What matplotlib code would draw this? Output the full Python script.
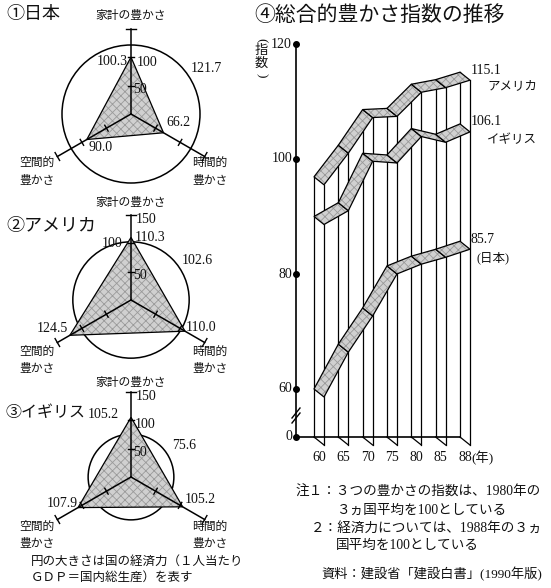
import numpy as np
import matplotlib.pyplot as plt
from matplotlib.patches import Polygon, Circle

plt.rcParams['font.family'] = ['Liberation Serif', 'Noto Sans CJK JP']
plt.rcParams['hatch.linewidth'] = 0.6

W, H, DPI = 551, 588, 100

# 豊かさ指数（家計・時間的・空間的）と経済力
japan_vals = [100.3, 66.2, 90.0]
usa_vals = [110.3, 110.0, 124.5]
uk_vals = [105.2, 105.2, 107.9]
japan_gdp = 121.7
usa_gdp = 102.6
uk_gdp = 75.6

# 総合的豊かさ指数の推移
years = ['60', '65', '70', '75', '80', '85', '88']
usa_trend = [96.9, 102.4, 108.6, 108.8, 113.0, 113.8, 115.1]
uk_trend = [90.0, 92.4, 101.0, 100.7, 105.3, 104.3, 106.1]
japan_trend = [60.0, 67.8, 74.1, 81.4, 83.1, 84.3, 85.7]
trend_names = ['アメリカ', 'イギリス', '(日本)']
yticks = [0, 60, 80, 100, 120]

FILL = '#d0d0d0'
HATCH = '#9a9a9a'
INK = '#111111'

fig = plt.figure(figsize=(W / DPI, H / DPI), dpi=DPI)


def px_axes(x0, y0, w, h):
    return fig.add_axes([x0 / W, 1 - (y0 + h) / H, w / W, h / H])


def ftext(x, y, s, **kw):
    kw.setdefault('va', 'center')
    kw.setdefault('color', INK)
    fig.text(x / W, 1 - y / H, s, **kw)


def shade(ax, pts, zorder=3):
    ax.add_patch(Polygon(pts, closed=True, fc=FILL, ec=HATCH, hatch='xxxx',
                         lw=0, zorder=zorder))
    ax.add_patch(Polygon(pts, closed=True, fill=False, ec='black', lw=0.9,
                         zorder=zorder))


# ---- radar charts ----
R = 0.567  # pixels per index point
ANG = np.radians([90, -30, 210])


def radar(cx, cy, vals, gdp, val_offs, off100, cap150, top_gap, low_dy):
    half = 125
    ax = px_axes(cx - half, cy - half, 2 * half, 2 * half)
    lim = half / R
    ax.set_xlim(-lim, lim)
    ax.set_ylim(-lim, lim)
    ax.axis('off')

    # circle = economic power
    ax.add_patch(Circle((0, 0), gdp, fill=False, ec='black', lw=1.1, zorder=2))
    xs = [v * np.cos(a) for v, a in zip(vals, ANG)]
    ys = [v * np.sin(a) for v, a in zip(vals, ANG)]
    shade(ax, list(zip(xs, ys)))

    for a in ANG:
        c, s = np.cos(a), np.sin(a)
        ax.plot([0, 150 * c], [0, 150 * s], color='black', lw=1.1, zorder=4)
        for r, hl in [(50, 6), (100, 6), (150, 8)]:
            ax.plot([r * c - hl * s, r * c + hl * s],
                    [r * s + hl * c, r * s - hl * c],
                    color='black', lw=1.0, zorder=4)

    for x, y, v, (dx, dy) in zip(xs, ys, vals, val_offs):
        ax.annotate(f'{v:.1f}', (x, y), xytext=(dx, -dy),
                    textcoords='offset pixels', ha='center', va='center',
                    fontsize=10, color=INK, zorder=5)

    ax.annotate('50', (0, 50), xytext=(9, -4), textcoords='offset pixels',
                ha='center', va='center', fontsize=10, color=INK, zorder=5)
    ax.annotate('100', (0, 100), xytext=(off100[0], -off100[1]),
                textcoords='offset pixels', ha='center', va='center',
                fontsize=10, color=INK, zorder=5)
    if cap150:
        ax.annotate('150', (0, 150), xytext=(15, -5), textcoords='offset pixels',
                    ha='center', va='center', fontsize=10, color=INK, zorder=5)

    a = np.radians(31)
    rr = gdp + 19 / R
    ax.text(rr * np.cos(a), rr * np.sin(a), f'{gdp:.1f}', ha='center',
            va='center', fontsize=10, color=INK)

    ax.text(0, 150 + top_gap / R, '家計の豊かさ', ha='center', va='center',
            fontsize=8.5, color=INK)
    for sx, nm in [(79, '時間的'), (-94, '空間的')]:
        ax.text(sx / R, -low_dy[0] / R, nm, ha='center', va='center',
                fontsize=8.5, color=INK)
        ax.text(sx / R, -low_dy[1] / R, '豊かさ', ha='center', va='center',
                fontsize=8.5, color=INK)


radar(131, 114, japan_vals, japan_gdp,
      [(-19, 4), (15, -10), (14, 8)], (16, 5), False, 13, (49, 67))
radar(131, 300, usa_vals, usa_gdp,
      [(19, 0), (16, -4), (-18, -7)], (-19, 0), True, 12, (52, 69))
radar(131, 477, uk_vals, uk_gdp,
      [(-28, -3), (18, -7), (-16, -4)], (14, 4), True, 9, (50, 67))

ftext(6, 15, '①日本', fontsize=13)
ftext(6, 227, '②アメリカ', fontsize=13)
ftext(5, 413, '③イギリス', fontsize=11.5)
ftext(31, 562, '円の大きさは国の経済力（１人当たり', fontsize=9)
ftext(31, 578, 'ＧＤＰ＝国内総生産）を表す', fontsize=9)

# ---- trend chart (broken value axis below 57) ----
BRK = 57.0
K = 0.09382


def fwd(v):
    v = np.asarray(v, dtype=float)
    return np.where(v >= BRK, v, BRK - (BRK - v) * K)


def inv(u):
    u = np.asarray(u, dtype=float)
    return np.where(u >= BRK, u, BRK - (BRK - u) / K)


PXU = 24.33   # pixels per year step
PXV = 5.75    # pixels per index point
DX = 10 / PXU
DY = 8 / PXV


def front(v):
    return float(inv(fwd(v) - DY))


ax = px_axes(270, 30, 230, 440)
ax.set_yscale('function', functions=(fwd, inv))
ax.set_xlim((270 - 314) / PXU, (500 - 314) / PXU)
ax.set_ylim(float(inv(100 - (470 - 159) / PXV)), 100 + (159 - 30) / PXV)
ax.axis('off')

n = len(years)
idx = np.arange(n)
series = [usa_trend, uk_trend, japan_trend]
top = np.max(series, axis=0)

# value axis
AXX = (296 - 314) / PXU
ax.plot([AXX, AXX], [0, 120], color='black', lw=1.2, zorder=2)
ax.plot([AXX] * len(yticks), yticks, 'o', color='black', ms=4, zorder=3)
for t in yticks:
    ax.annotate(str(t), (AXX, t), xytext=(-4, 0), textcoords='offset pixels',
                ha='right', va='center', fontsize=10, color=INK)
ub = 100 - (413 - 159) / PXV
for k in range(2):
    u0 = ub - k * 5 / PXV
    ax.plot([AXX - 4 / PXU, AXX + 4 / PXU],
            [float(inv(u0 - 5 / PXV)), float(inv(u0 + 5 / PXV))],
            color='black', lw=1.0, zorder=3)

# fence of year lines
ax.plot([AXX, idx[-1]], [0, 0], color='black', lw=1.2, zorder=2)
for i in idx:
    ax.plot([i, i], [0, top[i]], color='black', lw=0.9, zorder=2)
    ax.plot([i + DX, i + DX], [front(0), front(top[i])], color='black', lw=0.9,
            zorder=2)
    ax.plot([i, i + DX], [0, front(0)], color='black', lw=0.9, zorder=2)

# ribbons
for vals in series:
    for i in range(n - 1):
        pts = [(i, vals[i]), (i + 1, vals[i + 1]),
               (i + 1 + DX, front(vals[i + 1])), (i + DX, front(vals[i]))]
        shade(ax, pts, zorder=3)

# end labels
name_offs = [(27, -14), (27, -16), (17, -17)]
for vals, nm, (nx, ny) in zip(series, trend_names, name_offs):
    ax.annotate(f'{vals[-1]:.1f}', (idx[-1], vals[-1]), xytext=(11, 2),
                textcoords='offset pixels', ha='left', va='center',
                fontsize=10, color=INK)
    ax.annotate(nm, (idx[-1], vals[-1]), xytext=(nx, ny),
                textcoords='offset pixels', ha='left', va='center',
                fontsize=9, color=INK)

for i, y in zip(idx, years):
    ax.annotate(y, (i + DX / 2, 0), xytext=(0, -21), textcoords='offset pixels',
                ha='center', va='center', fontsize=10, color=INK)
ax.annotate('(年)', (idx[-1] + DX / 2, 0), xytext=(6, -21),
            textcoords='offset pixels', ha='left', va='center', fontsize=9.5,
            color=INK)

ftext(254, 16, '④総合的豊かさ指数の推移', fontsize=15)
# vertical unit label (指数)
ftext(261, 40, '(', fontsize=9.5, ha='center', rotation=-90)
ftext(261, 51, '指', fontsize=9.5, ha='center')
ftext(261, 64, '数', fontsize=9.5, ha='center')
ftext(261, 75, ')', fontsize=9.5, ha='center', rotation=-90)

ftext(295, 492, '注１：３つの豊かさの指数は、1980年の', fontsize=9.8)
ftext(336, 510, '３ヵ国平均を100としている', fontsize=9.8)
ftext(311, 528, '２：経済力については、1988年の３ヵ', fontsize=9.8)
ftext(336, 545, '国平均を100としている', fontsize=9.8)
ftext(321, 574, '資料：建設省「建設白書」(1990年版)', fontsize=9.5)

fig.savefig('out.png', dpi=DPI)
